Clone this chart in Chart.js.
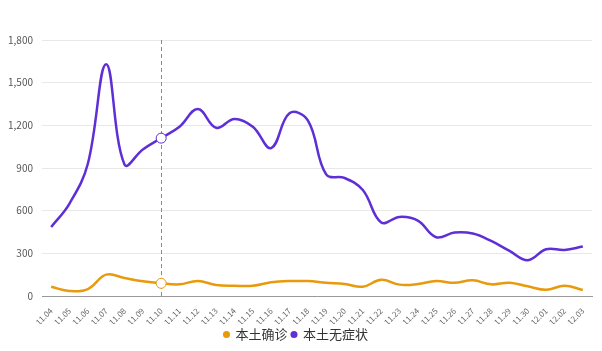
<!DOCTYPE html>
<html>
<head>
<meta charset="utf-8">
<script src="https://cdn.jsdelivr.net/npm/chart.js@4"></script>
<style>
  html, body { margin: 0; padding: 0; background: #fff; }
  #wrap { width: 602px; height: 351px; position: relative; }
</style>
</head>
<body>
<div id="wrap"><canvas id="chart_local"></canvas></div>
<script>
// dates 11.04 .. 12.03
var dates = ['11.04', '11.05', '11.06', '11.07', '11.08', '11.09', '11.10', '11.11', '11.12', '11.13',
             '11.14', '11.15', '11.16', '11.17', '11.18', '11.19', '11.20', '11.21', '11.22', '11.23',
             '11.24', '11.25', '11.26', '11.27', '11.28', '11.29', '11.30', '12.01', '12.02', '12.03'];

// 本土确诊
var confirmed = [65, 35, 49, 150, 126, 103, 89, 82, 105, 77,
                 72, 72, 96, 105, 105, 93, 84, 65, 114, 80,
                 84, 105, 93, 110, 82, 93, 68, 44, 72, 42];

// 本土无症状
var asymptomatic = [485, 650, 930, 1630, 925, 1030, 1110, 1190, 1315, 1183,
                    1245, 1190, 1040, 1285, 1235, 855, 830, 745, 517, 556,
                    530, 413, 446, 439, 387, 317, 252, 329, 324, 348];

var yTicks = [0, 300, 600, 900, 1200, 1500, 1800];
var hoverIndex = 6;

var fontFamily = "'Noto Sans CJK SC', 'Noto Sans', sans-serif";

var pointerLine = {
    id: 'pointerLine',
    beforeDatasetsDraw: (chart) => {
        const ctx = chart.ctx;
        const x = chart.scales.x.getPixelForValue(hoverIndex);
        ctx.save();
        ctx.strokeStyle = '#8a8a8a';
        ctx.lineWidth = 1;
        ctx.setLineDash([4, 3]);
        ctx.beginPath();
        ctx.moveTo(Math.round(x) + 0.5, chart.chartArea.top);
        ctx.lineTo(Math.round(x) + 0.5, chart.chartArea.bottom);
        ctx.stroke();
        ctx.restore();
    }
};

function markerRadius(c) {
    return c.dataIndex === hoverIndex ? 5 : 0;
}

var chart_local = new Chart(document.getElementById('chart_local'), {
    type: 'line',
    data: {
        labels: dates,
        datasets: [
            {
                label: '本土确诊',
                data: confirmed,
                borderColor: '#e99a0c',
                backgroundColor: '#e99a0c',
                borderWidth: 2.5,
                tension: 0.4,
                pointRadius: markerRadius,
                pointBackgroundColor: '#fff',
                pointBorderColor: '#e99a0c',
                pointBorderWidth: 1
            },
            {
                label: '本土无症状',
                data: asymptomatic,
                borderColor: '#5f2fd6',
                backgroundColor: '#5f2fd6',
                borderWidth: 2.5,
                tension: 0.4,
                pointRadius: markerRadius,
                pointBackgroundColor: '#fff',
                pointBorderColor: '#5f2fd6',
                pointBorderWidth: 1
            }
        ]
    },
    options: {
        animation: false,
        responsive: true,
        maintainAspectRatio: false,
        layout: {
            padding: { top: 40, right: 10, left: 0, bottom: 0 }
        },
        plugins: {
            legend: {
                position: 'bottom',
                labels: {
                    usePointStyle: true,
                    pointStyle: 'circle',
                    boxWidth: 5,
                    boxHeight: 5,
                    padding: 4,
                    color: '#333',
                    font: { family: fontFamily, size: 13 },
                    generateLabels: (chart) => chart.data.datasets.map((ds, i) => ({
                        text: ds.label,
                        fillStyle: ds.borderColor,
                        strokeStyle: ds.borderColor,
                        lineWidth: 0,
                        pointStyle: 'circle',
                        fontColor: '#333',
                        hidden: !chart.isDatasetVisible(i),
                        datasetIndex: i
                    }))
                }
            },
            tooltip: { enabled: false }
        },
        scales: {
            x: {
                offset: true,
                grid: { display: false },
                border: { display: true, color: '#999' },
                ticks: {
                    color: '#666',
                    padding: 2,
                    minRotation: 45,
                    maxRotation: 45,
                    autoSkip: false,
                    font: { family: fontFamily, size: 8 }
                },
                afterFit: (s) => { s.height = 28; }
            },
            y: {
                min: 0,
                max: 1800,
                afterBuildTicks: (s) => { s.ticks = yTicks.map(v => ({ value: v })); },
                grid: { color: '#e8e8e8', drawTicks: false },
                border: { display: false },
                ticks: {
                    color: '#555',
                    padding: 9,
                    font: { family: fontFamily, size: 10 },
                    callback: (v) => v.toLocaleString('en-US')
                },
                afterFit: (s) => { s.width = 42; }
            }
        }
    },
    plugins: [pointerLine, {
        id: 'whiteBg',
        beforeDraw: (chart) => {
            const ctx = chart.canvas.getContext('2d');
            ctx.save();
            ctx.globalCompositeOperation = 'destination-over';
            ctx.fillStyle = 'white';
            ctx.fillRect(0, 0, chart.canvas.width, chart.canvas.height);
            ctx.restore();
        }
    }]
});
</script>
</body>
</html>
